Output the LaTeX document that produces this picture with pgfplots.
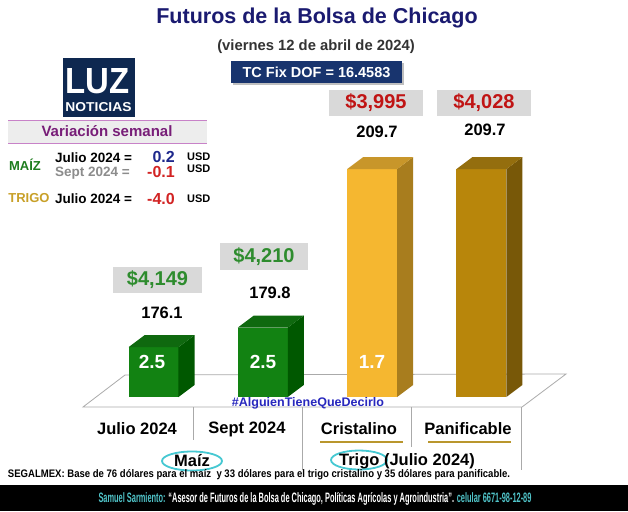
\documentclass[border=0pt]{standalone}
\usepackage{pgfplots}
\pgfplotsset{compat=1.18}
\usepackage{fontspec}
\setmainfont{Liberation Sans}
\usepackage{graphicx}
\definecolor{navyT}{RGB}{26,26,112}
\definecolor{subg}{RGB}{51,51,51}
\definecolor{tcbox}{RGB}{24,52,110}
\definecolor{logo}{RGB}{14,40,80}
\definecolor{pinkl}{RGB}{200,130,200}
\definecolor{purp}{RGB}{120,30,120}
\definecolor{mgreen}{RGB}{30,125,30}
\definecolor{tgold}{RGB}{200,160,40}
\definecolor{vblue}{RGB}{30,40,140}
\definecolor{vred}{RGB}{210,35,35}
\definecolor{pgreen}{RGB}{46,140,46}
\definecolor{pred}{RGB}{192,20,20}
\definecolor{boxg}{RGB}{217,217,217}
\definecolor{gfront}{RGB}{18,130,18}
\definecolor{gside}{RGB}{0,88,0}
\definecolor{gtop}{RGB}{15,105,15}
\definecolor{cfront}{RGB}{245,183,48}
\definecolor{cside}{RGB}{168,125,30}
\definecolor{ctop}{RGB}{200,150,42}
\definecolor{pfront}{RGB}{184,134,11}
\definecolor{pside}{RGB}{120,88,8}
\definecolor{ptop}{RGB}{148,110,14}
\definecolor{cyanl}{RGB}{70,200,210}
\definecolor{ftcyan}{RGB}{80,195,200}
\definecolor{hashb}{RGB}{40,40,190}
\definecolor{floorl}{RGB}{170,170,170}
\definecolor{uline}{RGB}{185,150,45}
\newcommand\fs[1]{\fontsize{#1}{#1}\selectfont\bfseries}
\begin{document}
\begin{tikzpicture}
\useasboundingbox (0,0) rectangle (628pt,-511pt);
\fill[white] (0,0) rectangle (628pt,-511pt);
\begin{scope}[x=1pt,y=-1pt]
% floor
\draw[floorl, line width=0.8pt, fill=white] (83,407) -- (522,407) -- (566,374) -- (125,375) -- cycle;
\draw[floorl, line width=0.8pt] (193,407) -- (193,440);
\draw[floorl, line width=0.8pt] (302,407) -- (302,470);
\draw[floorl, line width=0.8pt] (411,407) -- (411,447);
\draw[floorl, line width=0.8pt] (521,407) -- (521,470);
\end{scope}

\begin{axis}[at={(98.85pt,-397pt)}, anchor=south west, scale only axis,
  width=437.2pt, height=297pt, xmin=-0.5, xmax=3.5, ymin=166.7, ymax=222.74,
  hide axis, clip=true]
% front faces
\addplot[ybar, bar width=50pt, fill=gfront, draw=none] coordinates {(0,176.1)};
\addplot[ybar, bar width=50pt, fill=gfront, draw=none] coordinates {(1,179.8)};
\addplot[ybar, bar width=50pt, fill=cfront, draw=none] coordinates {(2,209.7)};
\addplot[ybar, bar width=50pt, fill=pfront, draw=none] coordinates {(3,209.7)};
% side faces
\addplot[fill=gside, draw=none] coordinates {(0.2287,166.7) (0.3751,168.964) (0.3751,178.364) (0.2287,176.1)} -- cycle;
\addplot[fill=gside, draw=none] coordinates {(1.2287,166.7) (1.3751,168.964) (1.3751,182.064) (1.2287,179.8)} -- cycle;
\addplot[fill=cside, draw=none] coordinates {(2.2287,166.7) (2.3751,168.964) (2.3751,211.964) (2.2287,209.7)} -- cycle;
\addplot[fill=pside, draw=none] coordinates {(3.2287,166.7) (3.3751,168.964) (3.3751,211.964) (3.2287,209.7)} -- cycle;
% top faces
\addplot[fill=gtop, draw=none] coordinates {(-0.2287,176.1) (0.2287,176.1) (0.3751,178.364) (-0.0823,178.364)} -- cycle;
\addplot[fill=gtop, draw=none] coordinates {(0.7713,179.8) (1.2287,179.8) (1.3751,182.064) (0.9177,182.064)} -- cycle;
\addplot[fill=ctop, draw=none] coordinates {(1.7713,209.7) (2.2287,209.7) (2.3751,211.964) (1.9177,211.964)} -- cycle;
\addplot[fill=ptop, draw=none] coordinates {(2.7713,209.7) (3.2287,209.7) (3.3751,211.964) (2.9177,211.964)} -- cycle;
\end{axis}

\begin{scope}[x=1pt,y=-1pt]
% title block
\node[navyT] at (317,18) {\fs{21.5}Futuros de la Bolsa de Chicago};
\node[subg] at (316,47) {\fs{14.8}(viernes 12 de abril de 2024)};
\fill[black!25] (233,63) rectangle (404,85);
\fill[tcbox] (231,61) rectangle (402,83);
\node[white] at (316.5,72) {\fs{14.5}TC Fix DOF = 16.4583};
% logo
\fill[logo] (63,58) rectangle (135,117);
\node[white, inner sep=0pt] at (97.5,81) {\resizebox{64pt}{25pt}{\bfseries LUZ}};
\node[white, inner sep=0pt] at (98.5,107.5) {\resizebox{66pt}{9pt}{\bfseries NOTICIAS}};
% variation panel
\fill[black!7] (8,120) rectangle (207,143);
\draw[pinkl, line width=1pt] (8,120) -- (207,120);
\draw[pinkl, line width=1pt] (8,143) -- (207,143);
\node[purp] at (107,131.5) {\fs{15}Variación semanal};
\node[mgreen] at (25,165) {\fs{13}MAÍZ};
\node[anchor=west, inner sep=0pt] at (55,158) {\fs{13.5}Julio 2024 =};
\node[anchor=east, inner sep=0pt, vblue] at (175,156.5) {\fs{16}0.2};
\node[anchor=west, inner sep=0pt] at (187,157) {\fs{11}USD};
\node[anchor=west, inner sep=0pt, black!45] at (55,173) {\fs{13.5}Sept 2024 =};
\node[anchor=east, inner sep=0pt, vred] at (175,172) {\fs{16}-0.1};
\node[anchor=west, inner sep=0pt] at (187,169) {\fs{11}USD};
\node[tgold] at (29,198) {\fs{13}TRIGO};
\node[anchor=west, inner sep=0pt] at (55,199) {\fs{13.5}Julio 2024 =};
\node[anchor=east, inner sep=0pt, vred] at (175,198.5) {\fs{16}-4.0};
\node[anchor=west, inner sep=0pt] at (187,199) {\fs{11}USD};
% price boxes
\fill[boxg] (113,267) rectangle (202,293);
\node[pgreen] at (157.5,280) {\fs{20}\$4,149};
\fill[boxg] (220,243) rectangle (308,270);
\node[pgreen] at (264,256.5) {\fs{20}\$4,210};
\fill[boxg] (329,90) rectangle (423,116);
\node[pred] at (376,103) {\fs{20}\$3,995};
\fill[boxg] (437,90) rectangle (531,116);
\node[pred] at (484,103) {\fs{20}\$4,028};
% values
\node at (162,313) {\fs{16.5}176.1};
\node at (270,293) {\fs{16.5}179.8};
\node at (377,132) {\fs{16.5}209.7};
\node at (485,130) {\fs{16.5}209.7};
\node[white] at (152,362) {\fs{19}2.5};
\node[white] at (263,362) {\fs{19}2.5};
\node[white] at (372,362) {\fs{19}1.7};
% hashtag
\node[hashb] at (308,403) {\resizebox{152pt}{9pt}{\bfseries\#AlguienTieneQueDecirlo}};
% categories
\node at (137,429) {\fs{16.5}Julio 2024};
\node at (247,429) {\fs{16.5}Sept 2024};
\node at (359,429) {\fs{16.5}Cristalino};
\node at (468,429) {\fs{16.5}Panificable};
\draw[uline, line width=2.5pt] (320,442) -- (403,442);
\draw[uline, line width=2.5pt] (428,442) -- (511,442);
\draw[cyanl, line width=1.8pt] (192,461) ellipse (30 and 9.5);
\node at (192,461) {\fs{16.5}Maíz};
\draw[cyanl, line width=1.8pt] (359,460) ellipse (28 and 9.5);
\node at (407,461) {\fs{16.5}Trigo (Julio 2024)};
% note
\node at (259,475) {\resizebox{502pt}{8pt}{\bfseries SEGALMEX: Base de 76 dólares para el maíz\ \ y 33 dólares para el trigo cristalino y 35 dólares para panificable.}};
% footer
\fill[black] (0,485) rectangle (628,511);
\node at (315,498.5) {\resizebox{433pt}{10pt}{\bfseries\textcolor{ftcyan}{Samuel Sarmiento:} \textcolor{white}{“Asesor de Futuros de la Bolsa de Chicago, Políticas Agrícolas y Agroindustria”.} \textcolor{ftcyan}{celular 6671-98-12-89}}};
\end{scope}
\end{tikzpicture}
\end{document}
